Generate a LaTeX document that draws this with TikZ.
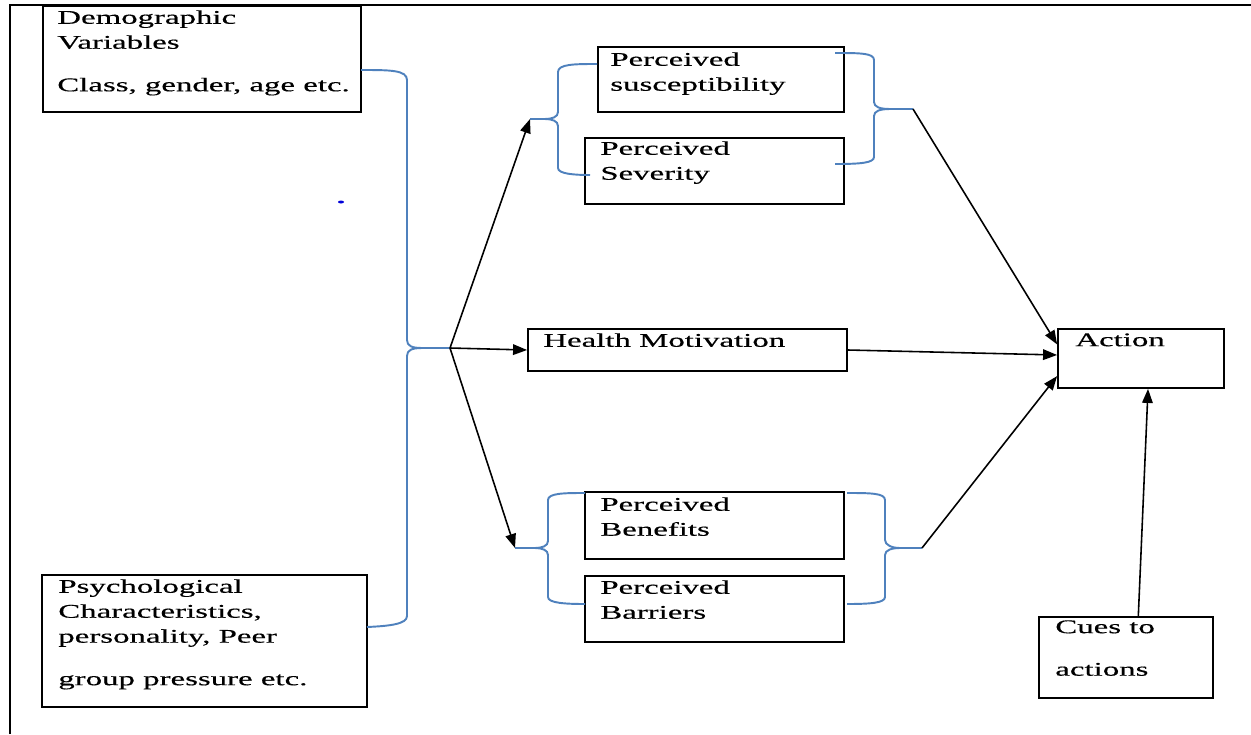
\documentclass[tikz,border=0pt]{standalone}
\usepackage{fontspec}
\setmainfont[FakeStretch=1.7,FakeBold=0.4]{Liberation Serif}
\usetikzlibrary{arrows.meta,fit}
\definecolor{bracecol}{RGB}{79,129,189}

\begin{document}
\begin{tikzpicture}[x=0.02cm, y=-0.02cm,
  box/.style = {draw, line width=1pt, inner sep=0pt},
  txt/.style = {anchor=north west, inner sep=0pt, align=left, font=\fontsize{11}{14.2}\selectfont},
  brace/.style = {draw=bracecol, line width=1.1pt},
  arr/.style = {-{Triangle[length=8pt,width=6pt]}, line width=0.9pt}]
\useasboundingbox (0,0) rectangle (1251,734);
% frame
\draw[line width=1pt] (10,734) -- (10,5) -- (1251,5);
% boxes
\node[box, fit={(43,6) (361,112)}] (demo) {};
\node[box, fit={(42,575) (367,707)}] (psych) {};
\node[box, fit={(598,47) (844,112)}] (suscept) {};
\node[box, fit={(585,138) (844,204)}] (severity) {};
\node[box, fit={(528,329) (847,371)}] (health) {};
\node[box, fit={(585,492) (844,559)}] (benefits) {};
\node[box, fit={(585,576) (844,642)}] (barriers) {};
\node[box, fit={(1058,329) (1224,388)}] (action) {};
\node[box, fit={(1039,617) (1213,698)}] (cues) {};
% texts
\node[txt] (demo-t) at (57,10) {Demographic\\Variables\\[10pt]Class, gender, age etc.};
\node[txt] (psych-t) at (58,579) {Psychological\\Characteristics,\\personality, Peer\\[10pt]group pressure etc.};
\node[txt] (suscept-t) at (610,52) {Perceived\\susceptibility};
\node[txt] (severity-t) at (600,141) {Perceived\\Severity};
\node[txt] (health-t) at (543,333) {Health Motivation};
\node[txt] (benefits-t) at (600,497) {Perceived\\Benefits};
\node[txt] (barriers-t) at (600,580) {Perceived\\Barriers};
\node[txt] (action-t) at (1075,333) {Action};
\node[txt] (cues-t) at (1055,620) {Cues to\\[10pt]actions};
% brace tips
\coordinate (bigtip) at (450,348);
\coordinate (sstip) at (530,119);
\coordinate (ssout) at (913,109);
\coordinate (bbtip) at (515,548);
\coordinate (bbout) at (922,548);
% braces
\draw[brace] (361,70) .. controls (390,70) and (407,70) .. (407,80) -- (407,340)
  .. controls (407,346) and (412,348) .. (422,348) -- (bigtip);
\draw[brace] (422,348) .. controls (412,348) and (407,350) .. (407,356) -- (407,616)
  .. controls (407,624) and (390,626) .. (367,627);
\draw[brace] (597,64) .. controls (575,64) and (558,64) .. (558,72) -- (558,112)
  .. controls (558,117) and (552,119) .. (545,119) -- (sstip);
\draw[brace] (545,119) .. controls (552,119) and (558,121) .. (558,126) -- (558,168)
  .. controls (558,174) and (575,175) .. (590,175);
\draw[brace] (835,53) .. controls (860,53) and (874,53) .. (874,60) -- (874,102)
  .. controls (874,107) and (880,109) .. (890,109) -- (ssout);
\draw[brace] (890,109) .. controls (880,109) and (874,111) .. (874,116) -- (874,157)
  .. controls (874,163) and (860,164) .. (835,164);
\draw[brace] (585,493) .. controls (565,493) and (548,493) .. (548,500) -- (548,541)
  .. controls (548,546) and (542,548) .. (535,548) -- (bbtip);
\draw[brace] (535,548) .. controls (542,548) and (548,550) .. (548,555) -- (548,597)
  .. controls (548,603) and (565,604) .. (585,604);
\draw[brace] (847,493) .. controls (870,493) and (885,493) .. (885,500) -- (885,540)
  .. controls (885,545) and (892,548) .. (900,548) -- (bbout);
\draw[brace] (900,548) .. controls (892,548) and (885,550) .. (885,555) -- (885,597)
  .. controls (885,603) and (870,604) .. (847,604);
% arrows
\draw[arr] (bigtip) -- (sstip);
\draw[arr] (bigtip) -- (health.west);
\draw[arr] (bigtip) -- (bbtip);
\draw[arr] (ssout) -- ([yshift=8pt]action.west);
\draw[arr] (health.east) -- ([yshift=2pt]action.west);
\draw[arr] (bbout) -- ([yshift=-10pt]action.west);
\draw[arr] ([xshift=7pt]cues.north) -- ([xshift=4pt]action.south);
% stray dot
\fill[blue!85!black] (341,202) ellipse [x radius=3, y radius=1.5];
\end{tikzpicture}
\end{document}
